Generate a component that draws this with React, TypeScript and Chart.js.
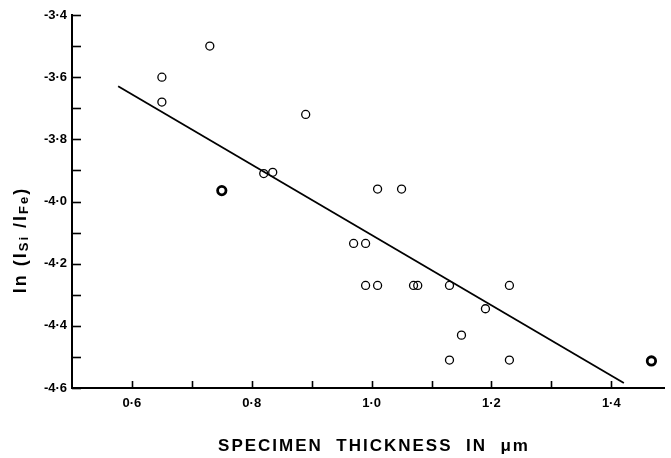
import React, { useEffect, useRef } from 'react';
import { Chart, registerables } from 'chart.js';

Chart.register(...registerables);

// Open circles (specimen thickness in µm, ln(ISi/IFe))
const openX = [0.73, 0.65, 0.65, 0.89, 0.82, 0.835, 1.01, 1.05, 0.97, 0.99, 0.99, 1.01, 1.07, 1.077, 1.13, 1.23, 1.19, 1.15, 1.13, 1.23];
const openY = [-3.5, -3.6, -3.68, -3.72, -3.91, -3.906, -3.96, -3.96, -4.135, -4.135, -4.27, -4.27, -4.27, -4.27, -4.27, -4.27, -4.345, -4.43, -4.51, -4.51];
// Bold circles
const boldX = [0.75, 1.467];
const boldY = [-3.965, -4.513];
// Fitted line end points
const fitX = [0.577, 1.421];
const fitY = [-3.629, -4.584];

const xTickValues = [0.6, 0.7, 0.8, 0.9, 1.0, 1.1, 1.2, 1.3, 1.4];
const xLabelValues = [0.6, 0.8, 1.0, 1.2, 1.4];
const yTickValues = [-4.6, -4.5, -4.4, -4.3, -4.2, -4.1, -4.0, -3.9, -3.8, -3.7, -3.6, -3.5, -3.4];
const yLabelValues = [-4.6, -4.4, -4.2, -4.0, -3.8, -3.6, -3.4];

const xTitle = 'SPECIMEN  THICKNESS  IN  \u03bcm';
const yTitleParts = [
  { t: 'ln (I', sub: false },
  { t: 'Si', sub: true },
  { t: ' /I', sub: false },
  { t: 'Fe', sub: true },
  { t: ')', sub: false },
];

const FONT = '"Liberation Sans", Arial, sans-serif';

const fmt = (v: number) => v.toFixed(1).replace('.', '\u00b7');
const isIn = (arr: number[], v: number) => arr.some((a) => Math.abs(a - v) < 1e-6);

const axisPlugin = {
  id: 'axisDecor',
  afterDraw(chart: any) {
    const { ctx, chartArea: ca, scales } = chart;
    const xs = scales.x;
    const ys = scales.y;
    ctx.save();
    ctx.strokeStyle = '#000';
    ctx.lineWidth = 1.6;
    xTickValues.forEach((v) => {
      const px = Math.round(xs.getPixelForValue(v)) + 0.5;
      ctx.beginPath();
      ctx.moveTo(px, ca.bottom);
      ctx.lineTo(px, ca.bottom - 7);
      ctx.stroke();
    });
    yTickValues.forEach((v) => {
      const py = Math.round(ys.getPixelForValue(v)) + 0.5;
      ctx.beginPath();
      ctx.moveTo(ca.left, py);
      ctx.lineTo(ca.left + 9, py);
      ctx.stroke();
    });

    // X title
    ctx.fillStyle = '#000';
    ctx.font = `bold 17px ${FONT}`;
    (ctx as any).letterSpacing = '2px';
    ctx.textAlign = 'center';
    ctx.textBaseline = 'middle';
    ctx.fillText(xTitle, (ca.left + ca.right) / 2 + 6, 446);

    // Y title (rotated, with subscripts)
    (ctx as any).letterSpacing = '2px';
    ctx.translate(21, 240);
    ctx.rotate(-Math.PI / 2);
    const big = `bold 18px ${FONT}`;
    const small = `bold 13px ${FONT}`;
    let total = 0;
    yTitleParts.forEach((p) => {
      ctx.font = p.sub ? small : big;
      total += ctx.measureText(p.t).width;
    });
    let x = -total / 2;
    ctx.textAlign = 'left';
    ctx.textBaseline = 'middle';
    yTitleParts.forEach((p) => {
      ctx.font = p.sub ? small : big;
      ctx.fillText(p.t, x, p.sub ? 3 : 0);
      x += ctx.measureText(p.t).width;
    });
    (ctx as any).letterSpacing = '0px';
    ctx.restore();
  },
};

export default function App() {
  const ref = useRef<HTMLCanvasElement | null>(null);

  useEffect(() => {
    document.body.style.margin = '0';
    const canvas = ref.current;
    if (!canvas) return;
    const chart = new Chart(canvas, {
      type: 'scatter',
      data: {
        datasets: [
          {
            type: 'line',
            data: fitX.map((x, i) => ({ x, y: fitY[i] })),
            borderColor: '#000',
            borderWidth: 1.8,
            pointRadius: 0,
            fill: false,
          } as any,
          {
            data: openX.map((x, i) => ({ x, y: openY[i] })),
            pointStyle: 'circle',
            pointRadius: 4,
            borderWidth: 1.3,
            borderColor: '#000',
            backgroundColor: 'rgba(0,0,0,0)',
          },
          {
            data: boldX.map((x, i) => ({ x, y: boldY[i] })),
            pointStyle: 'circle',
            pointRadius: 4.2,
            borderWidth: 2.8,
            borderColor: '#000',
            backgroundColor: 'rgba(0,0,0,0)',
          },
        ],
      },
      options: {
        responsive: false,
        animation: false,
        devicePixelRatio: 1,
        layout: { padding: { top: 15, right: 0, left: 0, bottom: 0 } },
        plugins: {
          legend: { display: false },
          tooltip: { enabled: false },
        },
        scales: {
          x: {
            type: 'linear',
            min: 0.5,
            max: 1.488,
            afterBuildTicks: (scale: any) => {
              scale.ticks = xTickValues.map((v) => ({ value: v }));
            },
            afterFit: (scale: any) => {
              scale.height = 70;
            },
            grid: { display: false, drawTicks: false },
            border: { display: true, color: '#000', width: 2 },
            ticks: {
              autoSkip: false,
              maxRotation: 0,
              padding: 8,
              color: '#000',
              font: { family: FONT, weight: 'bold', size: 13 },
              callback: (v: any) => (isIn(xLabelValues, Number(v)) ? fmt(Number(v)) : ''),
            },
          },
          y: {
            type: 'linear',
            min: -4.6,
            max: -3.4,
            afterBuildTicks: (scale: any) => {
              scale.ticks = yTickValues.map((v) => ({ value: v }));
            },
            afterFit: (scale: any) => {
              scale.width = 72;
            },
            grid: { display: false, drawTicks: false },
            border: { display: true, color: '#000', width: 2 },
            ticks: {
              autoSkip: false,
              padding: 5,
              color: '#000',
              font: { family: FONT, weight: 'bold', size: 13 },
              callback: (v: any) => (isIn(yLabelValues, Number(v)) ? fmt(Number(v)) : ''),
            },
          },
        },
      },
      plugins: [axisPlugin],
    });
    return () => chart.destroy();
  }, []);

  return (
    <div style={{ width: 671, height: 458 }}>
      <canvas ref={ref} width={671} height={458} style={{ display: 'block' }} />
    </div>
  );
}
